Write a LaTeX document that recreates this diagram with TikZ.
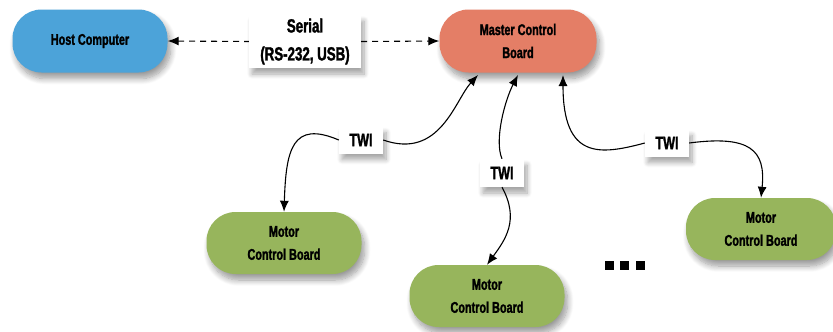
\documentclass[tikz,border=0pt]{standalone}
\usepackage{fontspec}
\setmainfont[FakeStretch=0.7, BoldFeatures={FakeBold=1.6}]{Liberation Sans}
\usetikzlibrary{arrows.meta,shadows,shadows.blur}
\definecolor{hostblue}{HTML}{4CA3D9}
\definecolor{mastersalmon}{HTML}{E47E66}
\definecolor{motorgreen}{HTML}{97B55C}
\tikzset{
  board/.style={rectangle, rounded corners=29pt, minimum width=155pt, minimum height=62pt,
    align=center, font=\bfseries\fontsize{15.5}{23}\selectfont, inner sep=0pt,
    blur shadow={shadow xshift=3pt, shadow yshift=-6pt, shadow blur steps=10, shadow blur radius=6pt, shadow opacity=40}},
  lab/.style={rectangle, fill=white, align=center, inner sep=0pt,
    blur shadow={shadow xshift=3pt, shadow yshift=-6pt, shadow blur steps=8, shadow blur radius=5pt, shadow opacity=35}},
  twi/.style={lab, minimum width=44pt, minimum height=27pt, font=\bfseries\fontsize{18}{18}\selectfont},
  ltip/.tip={Latex[length=11pt,width=9pt]},
  conn/.style={line width=1.1pt},
  dconn/.style={conn, dash pattern=on 6pt off 5pt},
  dotsq/.style={fill=black, minimum size=9pt, inner sep=0pt}
}
\begin{document}
\begin{tikzpicture}[x=1pt,y=-1pt]
\useasboundingbox (0,0) rectangle (833,332);
\node[board, fill=hostblue, minimum width=155pt, minimum height=63pt] (host) at (90,41) {Host Computer};
\node[board, fill=mastersalmon, minimum width=157pt, minimum height=63pt] (master) at (518,41) {Master Control\\Board};
\node[board, fill=motorgreen] (m1) at (284,243) {Motor\\Control Board};
\node[board, fill=motorgreen] (m2) at (487,296) {Motor\\Control Board};
\node[board, fill=motorgreen, minimum width=150pt] (m3) at (761,229) {Motor\\Control Board};
\coordinate (ma) at (478,75);
\coordinate (mb) at (518,75);
\coordinate (mc) at (563,75);
\node[lab, minimum width=112pt, minimum height=53pt, font=\bfseries\fontsize{19}{28}\selectfont] (serial) at (305,41.5) {Serial\\(RS-232, USB)};
\node[twi] (t1) at (361,140) {TWI};
\node[twi, minimum height=28pt] (t2) at (502,173) {TWI};
\node[twi] (t3) at (667,143) {TWI};
\node[dotsq] (d1) at (609,265) {};
\node[dotsq] (d2) at (624,265) {};
\node[dotsq] (d3) at (640,265) {};
\draw[dconn, {ltip}-] (host.east) -- (serial.west);
\draw[dconn, -{ltip}] (serial.east) -- (master.west);
\draw[conn, {ltip}-] (m1.north) .. controls (286,150) and (292,120) .. (t1.west);
\draw[conn, -{ltip}] (t1.east) .. controls (440,160) and (455,100) .. (ma);
\draw[conn, {ltip}-] (mb) .. controls (505,100) and (494,140) .. (t2.north);
\draw[conn, -{ltip}] (t2.south) .. controls (520,220) and (505,240) .. (m2.north);
\draw[conn, {ltip}-] (mc) .. controls (563,160) and (600,155) .. (t3.west);
\draw[conn, -{ltip}] (t3.east) .. controls (750,135) and (766,150) .. (m3.north);
\end{tikzpicture}
\end{document}
